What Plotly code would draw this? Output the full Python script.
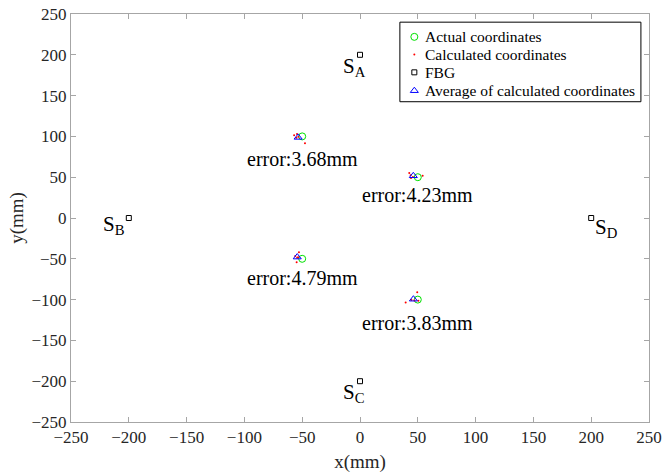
import plotly.graph_objects as go

# Actual coordinates
actual_x = [-50, 50, -50, 50]
actual_y = [100, 50, -50, -100]

# Calculated coordinates (scattered)
calc_x = [-55.1, -47.6, -57.0, -54.5, -53.3,
          42.6, 44.1, 54.2, 43.8, 45.8,
          -52.8, -54.8, -56.0, -53.5, -54.4,
          39.5, 49.5, 47.0, 44.5, 50.5]
calc_y = [98.4, 91.5, 101.5, 103.0, 99.6,
          55.1, 49.0, 51.8, 52.4, 50.2,
          -42.0, -54.3, -46.5, -48.0, -48.7,
          -103.5, -91.0, -101.0, -100.5, -101.5]

# FBG positions
fbg_x = [0, -200, 0, 200]
fbg_y = [200, 0, -200, 0]
fbg_names = ["S<sub>A</sub>", "S<sub>B</sub>", "S<sub>C</sub>", "S<sub>D</sub>"]
fbg_label_x = [-5, -213, -6, 213]
fbg_label_y = [185, -9, -215, -12]

# Average of calculated coordinates
avg_x = [-53.5, 46.1, -54.3, 46.2]
avg_y = [98.8, 51.7, -47.9, -99.5]

# Error labels
err_text = ["error:3.68mm", "error:4.23mm", "error:4.79mm", "error:3.83mm"]
err_x = [-50, 50, -50, 50]
err_y = [72, 28, -74, -129]

legend_names = ["Actual coordinates", "Calculated coordinates", "FBG", "Average of calculated coordinates"]

FONT = "Liberation Serif"

fig = go.Figure()
styles = [
    dict(symbol="circle-open", color="#00e000", size=7, line=dict(width=1)),
    dict(symbol="circle", color="#ff0000", size=2),
    dict(symbol="square-open", color="#000000", size=5, line=dict(width=1)),
    dict(symbol="triangle-up-open", color="#0000ff", size=7, line=dict(width=1)),
]
series = [(actual_x, actual_y), (calc_x, calc_y), (fbg_x, fbg_y), (avg_x, avg_y)]
for (sx, sy), st, nm in zip(series, styles, legend_names):
    fig.add_trace(go.Scatter(x=sx, y=sy, mode="markers", name=nm, marker=st, showlegend=False))

# Manual legend (overlay axes 0..1)
leg_x0, leg_x1, leg_y0, leg_y1 = 0.569, 0.986, 0.785, 0.980
leg_item_y = [0.944, 0.901, 0.857, 0.812]
leg_marker_x = 0.594
leg_text_x = 0.609
fig.add_shape(type="rect", xref="paper", yref="paper", x0=leg_x0, x1=leg_x1, y0=leg_y0, y1=leg_y1,
              line=dict(color="black", width=1), fillcolor="white", layer="below")
for st, yy in zip(styles, leg_item_y):
    fig.add_trace(go.Scatter(x=[leg_marker_x], y=[yy], mode="markers", marker=st,
                             xaxis="x2", yaxis="y2", showlegend=False, hoverinfo="skip"))
for nm, yy in zip(legend_names, leg_item_y):
    fig.add_annotation(xref="paper", yref="paper", x=leg_text_x, y=yy, text=nm, showarrow=False,
                       xanchor="left", yanchor="middle", font=dict(family=FONT, size=15.5, color="black"))

for t, x, y in zip(err_text, err_x, err_y):
    fig.add_annotation(x=x, y=y, text=t, showarrow=False, xanchor="center", yanchor="middle",
                       font=dict(family=FONT, size=20, color="black"))
for t, x, y in zip(fbg_names, fbg_label_x, fbg_label_y):
    fig.add_annotation(x=x, y=y, text=t, showarrow=False, xanchor="center", yanchor="middle",
                       font=dict(family=FONT, size=21, color="black"))

axis_common = dict(showline=True, linecolor="#a6a6a6", linewidth=1, mirror="ticks",
                   ticks="inside", ticklen=5, tickcolor="#a6a6a6", showgrid=False, zeroline=False,
                   tickfont=dict(family=FONT, size=17, color="#262626"),
                   range=[-250, 250], dtick=50, tick0=-250, automargin=False)

fig.update_layout(
    width=663, height=475,
    margin=dict(l=71, r=14, t=14, b=53),
    plot_bgcolor="white", paper_bgcolor="white",
    font=dict(family=FONT, color="black"),
    xaxis=dict(title=dict(text="x(mm)", font=dict(family=FONT, size=19, color="#262626"), standoff=8), **axis_common),
    yaxis=dict(title=dict(text="y(mm)", font=dict(family=FONT, size=19, color="#262626"), standoff=2), **axis_common),
    xaxis2=dict(overlaying="x", range=[0, 1], visible=False, fixedrange=True),
    yaxis2=dict(overlaying="y", range=[0, 1], visible=False, fixedrange=True),
    showlegend=False,
)

fig.write_html("out.html")
